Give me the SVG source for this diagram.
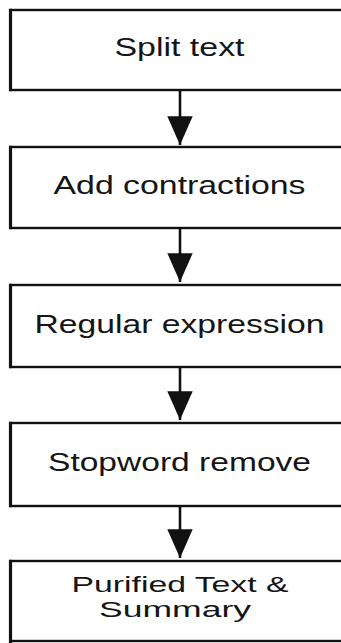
<svg xmlns="http://www.w3.org/2000/svg" width="341" height="643" viewBox="0 0 341 643">
  <style>
    .box { fill: #ffffff; stroke: #111111; stroke-width: 2.4; }
    .side { stroke: #111111; stroke-width: 3.2; }
    .lbl { font-family: "Liberation Sans", Arial, sans-serif; font-size: 25px; fill: #151515; text-anchor: middle; }
    .lbl2 { font-size: 22px; }
    .edge { stroke: #111111; stroke-width: 2.6; fill: none; marker-end: url(#arrow); }
  </style>
  <defs>
    <marker id="arrow" markerUnits="userSpaceOnUse" markerWidth="30" markerHeight="30" refX="25" refY="0" viewBox="0 -12 26 24" orient="auto">
      <path d="M0,-11 L25,0 L0,11 Z" fill="#111111"/>
    </marker>
  </defs>
  <rect width="341" height="643" fill="#ffffff"/>

  <g id="node-split">
    <rect class="box" x="10.5" y="10" width="340" height="80"/>
    <line class="side" x1="10.5" y1="8.8" x2="10.5" y2="91.2"/>
    <text class="lbl" x="179.5" y="56" textLength="130" lengthAdjust="spacingAndGlyphs">Split text</text>
  </g>
  <g id="node-contractions">
    <rect class="box" x="10.5" y="147" width="340" height="81"/>
    <line class="side" x1="10.5" y1="145.8" x2="10.5" y2="229.2"/>
    <text class="lbl" x="179.5" y="194" textLength="252" lengthAdjust="spacingAndGlyphs">Add contractions</text>
  </g>
  <g id="node-regex">
    <rect class="box" x="10.5" y="285" width="340" height="82"/>
    <line class="side" x1="10.5" y1="283.8" x2="10.5" y2="368.2"/>
    <text class="lbl" x="179.5" y="333" textLength="290" lengthAdjust="spacingAndGlyphs">Regular expression</text>
  </g>
  <g id="node-stopword">
    <rect class="box" x="10.5" y="423" width="340" height="83"/>
    <line class="side" x1="10.5" y1="421.8" x2="10.5" y2="507.2"/>
    <text class="lbl" x="179.5" y="471" textLength="263" lengthAdjust="spacingAndGlyphs">Stopword remove</text>
  </g>
  <g id="node-purified">
    <rect class="box" x="10.5" y="561" width="340" height="80"/>
    <line class="side" x1="10.5" y1="559.8" x2="10.5" y2="643"/>
    <text class="lbl lbl2" x="180" y="592" textLength="217" lengthAdjust="spacingAndGlyphs">Purified Text &amp;</text>
    <text class="lbl lbl2" x="175" y="617" textLength="152" lengthAdjust="spacingAndGlyphs">Summary</text>
  </g>

  <g id="connectors">
    <line class="edge" x1="180" y1="91" x2="180" y2="145"/>
    <line class="edge" x1="180" y1="229" x2="180" y2="282"/>
    <line class="edge" x1="180" y1="368" x2="180" y2="420"/>
    <line class="edge" x1="180" y1="507" x2="180" y2="558"/>
  </g>
</svg>
